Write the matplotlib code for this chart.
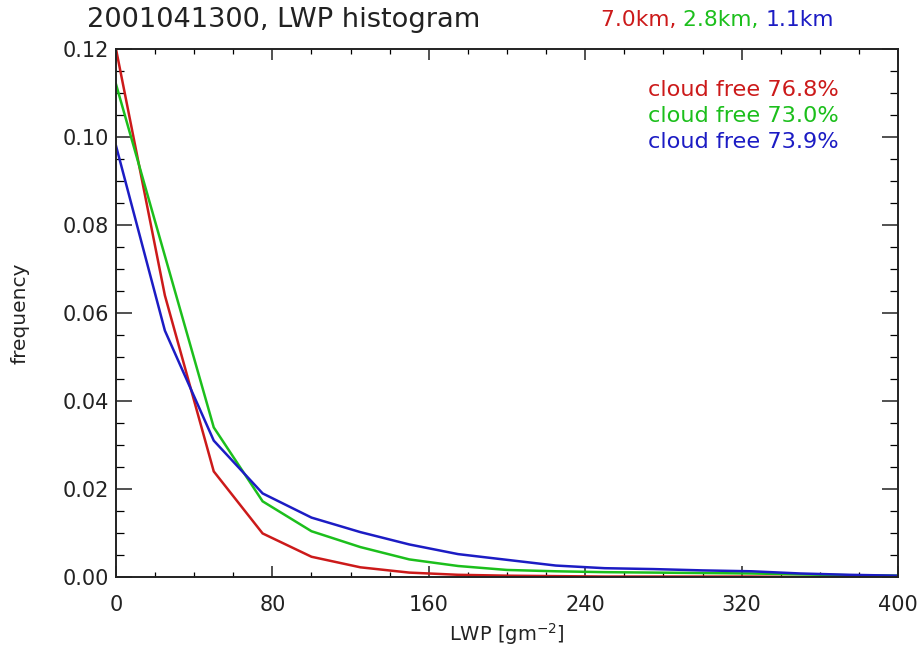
import matplotlib
matplotlib.use("Agg")
import matplotlib.pyplot as plt
from matplotlib.ticker import MultipleLocator, FormatStrFormatter

# ---- data ----
lwp = [0, 25, 50, 75, 100, 125, 150, 175, 200, 225, 250, 275, 300, 325, 350, 375, 400]
freq_7km = [0.120, 0.064, 0.024, 0.0099, 0.0046, 0.0022, 0.0010, 0.0005, 0.0003, 0.0002,
            0.0001, 0.0001, 0.0001, 0.0001, 0.0000, 0.0000, 0.0000]
freq_2p8km = [0.112, 0.073, 0.034, 0.0172, 0.0104, 0.0068, 0.0040, 0.0025, 0.0016, 0.0013,
              0.0011, 0.0010, 0.0009, 0.0008, 0.0006, 0.0004, 0.0003]
freq_1p1km = [0.098, 0.056, 0.031, 0.019, 0.0135, 0.0102, 0.0074, 0.0052, 0.0039, 0.0026,
              0.0020, 0.0018, 0.0015, 0.0013, 0.0008, 0.0005, 0.0003]
series_labels = ["7.0km", "2.8km", "1.1km"]
cloud_free = ["76.8%", "73.0%", "73.9%"]
colors = ["#cc1a1a", "#1cbf1c", "#1c1cc4"]

title_text = "2001041300, LWP histogram"
xlabel_text = r"LWP [gm$^{-2}$]"
ylabel_text = "frequency"

W, H = 920, 652
fig = plt.figure(figsize=(W / 100, H / 100), dpi=100)
plt.rcParams['font.family'] = ['DejaVu Sans']

ax_l, ax_r, ax_t, ax_b = 116, 898, 49, 577
ax = fig.add_axes([ax_l / W, 1 - ax_b / H, (ax_r - ax_l) / W, (ax_b - ax_t) / H])

for ys, c in zip([freq_7km, freq_2p8km, freq_1p1km], colors):
    ax.plot(lwp, ys, color=c, lw=1.8, solid_joinstyle='miter')

ax.set_xlim(0, 400)
ax.set_ylim(0, 0.12)
ax.xaxis.set_major_locator(MultipleLocator(80))
ax.xaxis.set_minor_locator(MultipleLocator(20))
ax.yaxis.set_major_locator(MultipleLocator(0.02))
ax.yaxis.set_minor_locator(MultipleLocator(0.005))
ax.yaxis.set_major_formatter(FormatStrFormatter('%.2f'))

ax.tick_params(axis='x', which='major', direction='in', length=7.6, width=1.1,
               top=True, bottom=True, labelsize=15, pad=13, colors='#222222')
ax.tick_params(axis='x', which='minor', direction='in', length=3.8, width=0.9,
               top=True, bottom=True)
ax.tick_params(axis='y', which='major', direction='in', length=11.2, width=1.1,
               left=True, right=True, labelsize=15, pad=5, colors='#222222')
ax.tick_params(axis='y', which='minor', direction='in', length=5.6, width=0.9,
               left=True, right=True)
for s in ax.spines.values():
    s.set_linewidth(1.4)
    s.set_color('#222222')

ax.set_xlabel(xlabel_text, fontsize=14, labelpad=4, color='#222222')
ax.set_ylabel(ylabel_text, fontsize=14.5, labelpad=24, color='#222222')

# title
fig.text(87 / W, 1 - 20 / H, title_text, fontsize=19.6, ha='left', va='center', color='#222222')

# colored resolution labels
renderer = fig.canvas.get_renderer()
x = 601
for i, (lab, c) in enumerate(zip(series_labels, colors)):
    s = lab + (", " if i < len(series_labels) - 1 else "")
    t = fig.text(x / W, 1 - 20 / H, s, fontsize=15.7, ha='left', va='center', color=c)
    bb = t.get_window_extent(renderer=renderer)
    x += bb.width

# cloud free annotations
ys_px = [90, 116, 142]
for cf, c, yp in zip(cloud_free, colors, ys_px):
    fig.text(839 / W, 1 - yp / H, "cloud free " + cf, fontsize=16.2, ha='right',
             va='center', color=c)

fig.savefig("out.png", dpi=100)
